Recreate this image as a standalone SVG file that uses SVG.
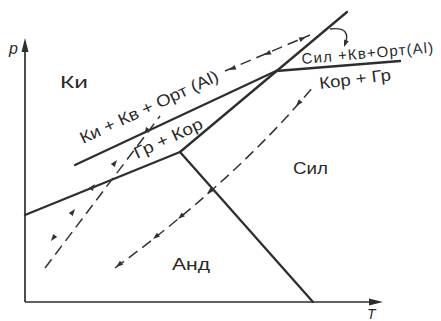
<svg xmlns="http://www.w3.org/2000/svg" width="441" height="321" viewBox="0 0 441 321">
<defs>
<style>
.ln{stroke:#2e2e2e;stroke-width:2.3;fill:none;stroke-linecap:round}
.ax{stroke:#2e2e2e;stroke-width:1.7;fill:none}
.ds{stroke:#333;stroke-width:1.5;fill:none;stroke-dasharray:11 6}
.t{font-family:"Liberation Sans",Arial,sans-serif;font-size:16.5px;fill:#2a2a2a}
.it{font-family:"Liberation Sans",Arial,sans-serif;font-size:16px;font-style:italic;fill:#2a2a2a}
.ah{fill:#333}
</style>
<path id="ah" d="M0,0 L-7,-2.5 L-7,2.5 Z"/>
</defs>
<rect width="441" height="321" fill="#ffffff"/>
<g id="axes">
<line class="ax" x1="25" y1="302" x2="25" y2="48"/>
<path d="M25,38 L21.5,52 L28.5,52 Z" fill="#2e2e2e"/>
<line class="ax" x1="25" y1="302" x2="372" y2="302"/>
<path d="M383,302 L369,298.5 L369,305.5 Z" fill="#2e2e2e"/>
<text class="it" x="9" y="54">p</text>
<text class="it" x="367" y="318.5" style="font-size:14px">T</text>
</g>
<g id="connectors">
<line class="ln" x1="25" y1="215" x2="180" y2="152"/>
<line class="ln" x1="180" y1="152" x2="313" y2="302"/>
<line class="ln" x1="180" y1="152" x2="347" y2="12"/>
<line class="ln" x1="75" y1="165" x2="276" y2="71"/>
<line class="ln" x1="276" y1="71" x2="400" y2="61"/>
<path class="ds" d="M45,268 L160,116"/>
<path class="ds" d="M225,71 L310,35"/>
<path class="ds" d="M115,268 Q235,180 313,87"/>
<path d="M330,29 Q352,26 345,45" fill="none" stroke="#333" stroke-width="1.4"/>
<use href="#ah" class="ah" transform="translate(344,47) rotate(110)"/>
<use href="#ah" class="ah" transform="translate(51,241) rotate(127)"/>
<use href="#ah" class="ah" transform="translate(75,209) rotate(-53)"/>
<use href="#ah" class="ah" transform="translate(95,184) rotate(-53)"/>
<use href="#ah" class="ah" transform="translate(117,160) rotate(-53)"/>
<use href="#ah" class="ah" transform="translate(144,134) rotate(127)"/>
<use href="#ah" class="ah" transform="translate(229,70) rotate(157)"/>
<use href="#ah" class="ah" transform="translate(264,55) rotate(157)"/>
<use href="#ah" class="ah" transform="translate(306,37) rotate(-23)"/>
<use href="#ah" class="ah" transform="translate(116,267) rotate(142)"/>
<use href="#ah" class="ah" transform="translate(153,239) rotate(141)"/>
<use href="#ah" class="ah" transform="translate(178,219) rotate(139)"/>
<use href="#ah" class="ah" transform="translate(207,194) rotate(137)"/>
<use href="#ah" class="ah" transform="translate(296,106) rotate(132)"/>
</g>
<g id="labels">
<text class="t" x="60" y="88" textLength="28" lengthAdjust="spacingAndGlyphs">Ки</text>
<text class="t" x="293" y="174" textLength="35" lengthAdjust="spacingAndGlyphs">Сил</text>
<text class="t" x="172" y="270" textLength="38" lengthAdjust="spacingAndGlyphs">Анд</text>
<text class="t" transform="translate(83,144) rotate(-25)" textLength="151" lengthAdjust="spacingAndGlyphs">Ки + Кв + Орт (Al)</text>
<text class="t" transform="translate(137,159) rotate(-25)" textLength="74" lengthAdjust="spacingAndGlyphs">Гр + Кор</text>
<text class="t" transform="translate(302,64) rotate(-5)" style="font-size:15px" textLength="132">Сил +Кв+Орт(Al)</text>
<text class="t" transform="translate(320,89) rotate(-7)" textLength="72" lengthAdjust="spacingAndGlyphs">Кор + Гр</text>
</g>
</svg>
